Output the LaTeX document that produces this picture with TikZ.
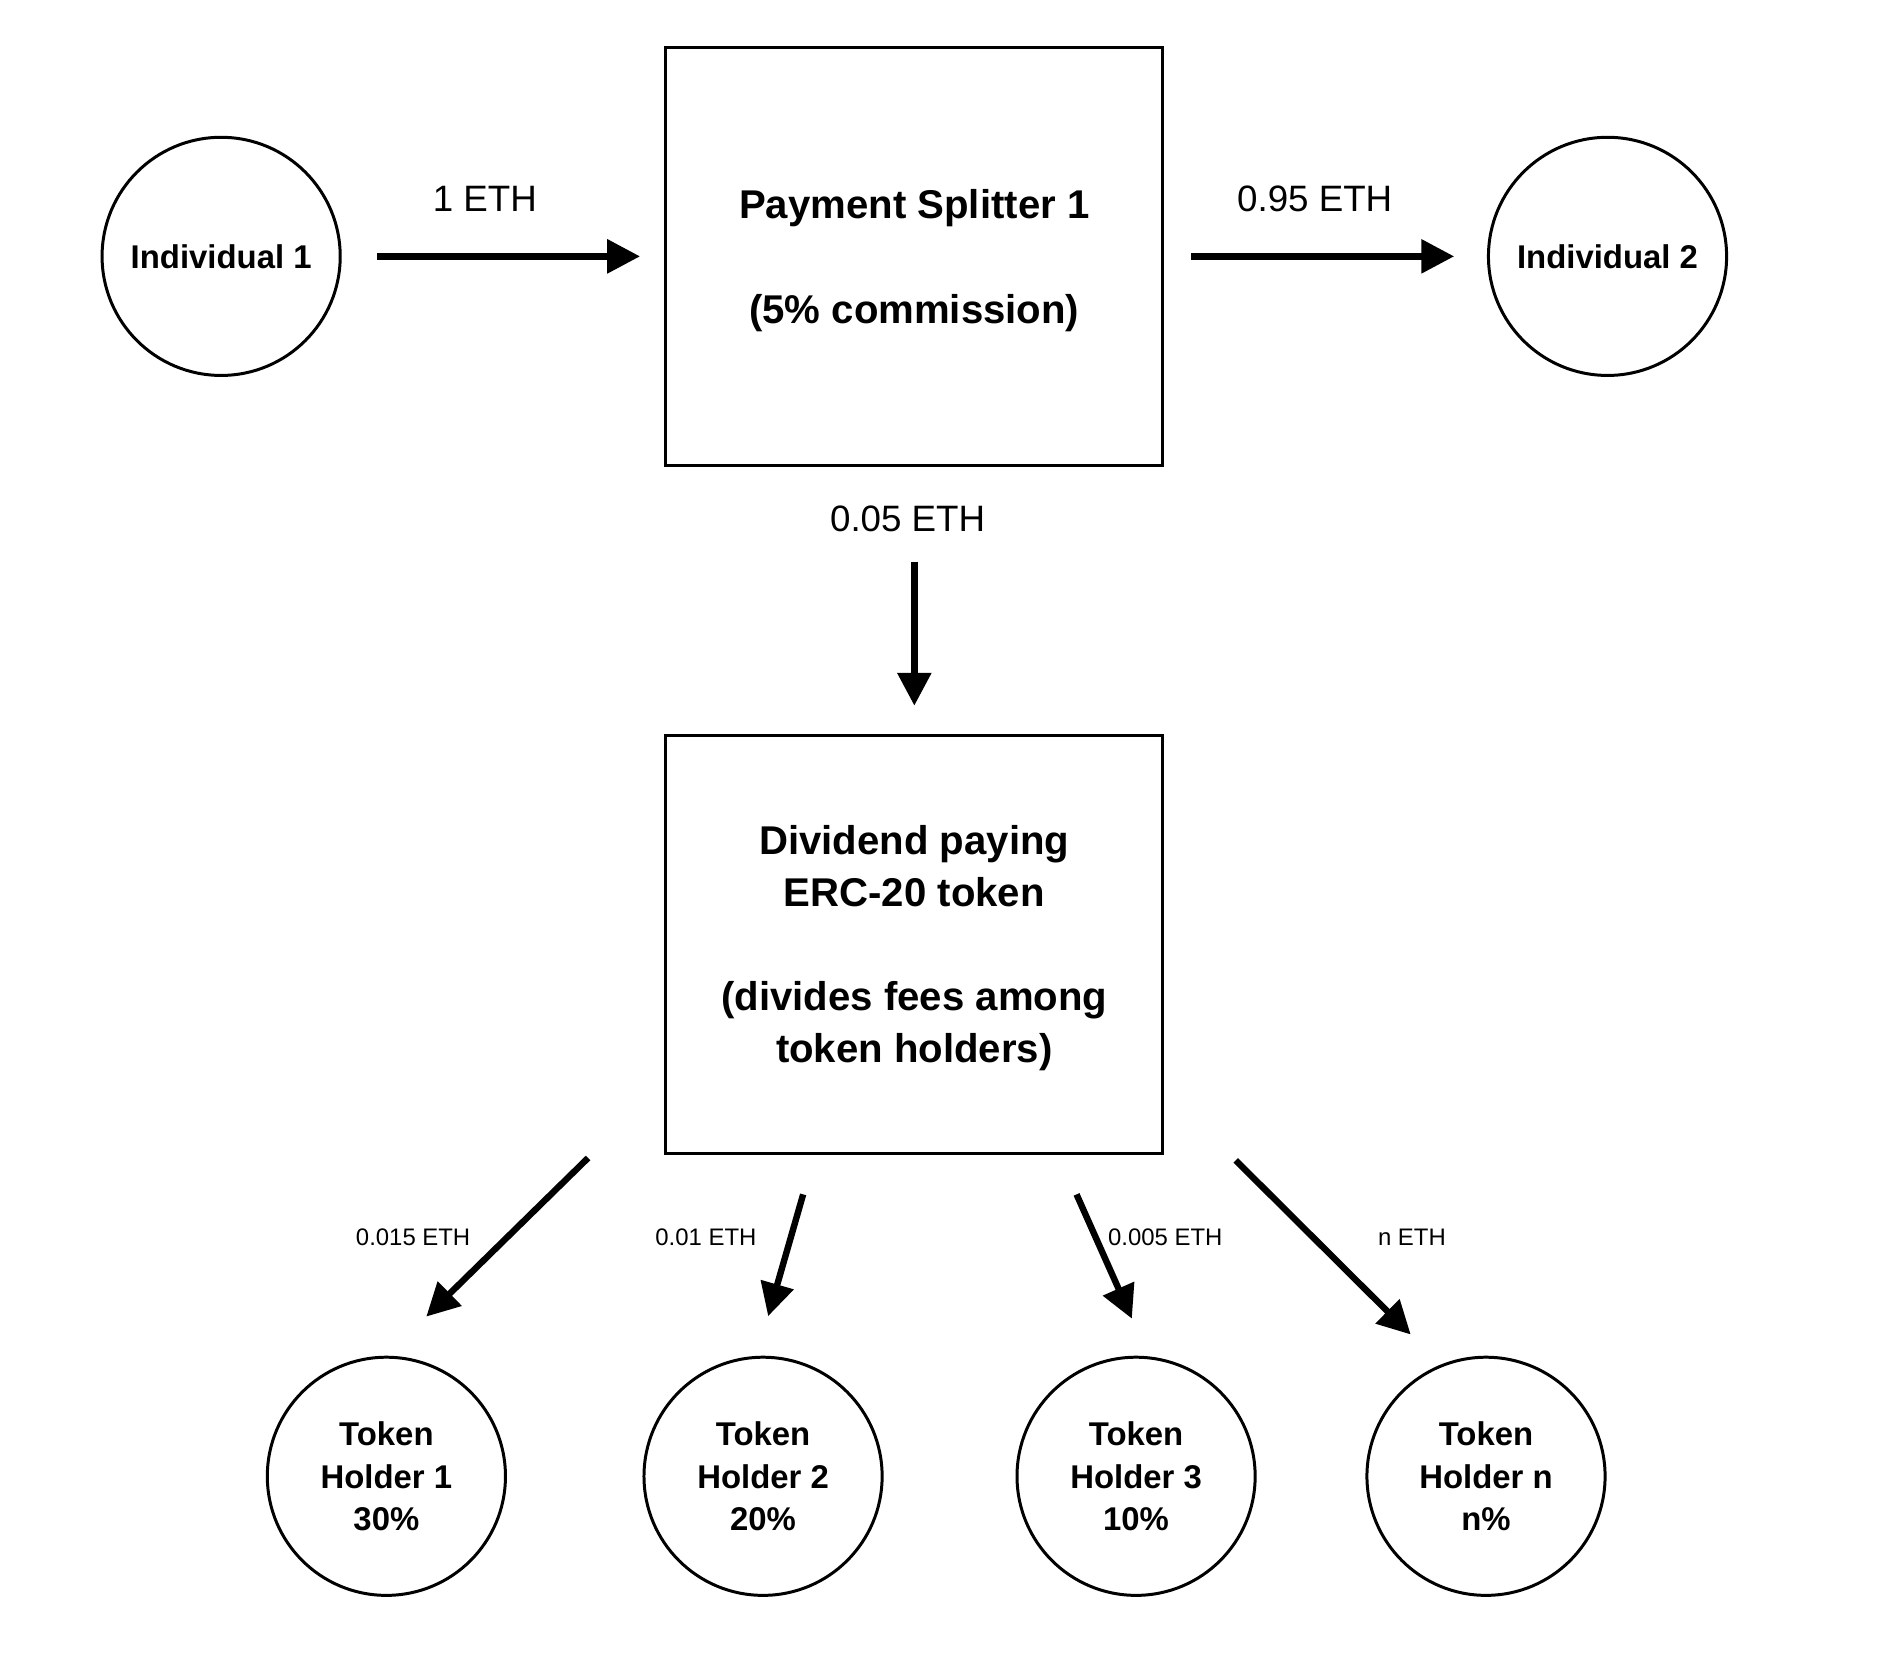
\documentclass[tikz,border=0pt]{standalone}
\usepackage{fontspec}
\setmainfont{Liberation Sans}
\usetikzlibrary{arrows.meta}

\begin{document}
\begin{tikzpicture}[
    person/.style={draw, circle, line width=0.7pt, minimum size=1.96cm, inner sep=0pt, align=center, font=\bfseries\fontsize{7.7}{10}\selectfont},
    contract/.style={draw, rectangle, line width=0.7pt, minimum width=4.09cm, minimum height=3.44cm, align=center, font=\bfseries\fontsize{9.4}{12.2}\selectfont},
    flow/.style={-{Triangle[length=7.7pt,width=7.7pt]}, line width=1.5pt},
    amount/.style={font=\fontsize{8.6}{10}\selectfont},
    share/.style={font=\fontsize{5.6}{7}\selectfont}]
          \useasboundingbox (0,0) rectangle (15.67,-13.629);

          \node[person] (Individual1) at (1.82,-2.11) {Individual 1};
          \node[contract, text depth=-1.8pt] (Splitter) at (7.525,-2.11) {Payment Splitter 1\\[12.2pt](5\% commission)};
          \node[person] (Individual2) at (13.23,-2.11) {Individual 2};

          \node[contract, text depth=-0.4pt] (Dividend) at (7.525,-7.77) {Dividend paying\\ERC-20 token\\[12.2pt](divides fees among\\token holders)};

          \node[person] (Holder1) at (3.18,-12.15) {Token\\Holder 1\\30\%};
          \node[person] (Holder2) at (6.28,-12.15) {Token\\Holder 2\\20\%};
          \node[person] (Holder3) at (9.35,-12.15) {Token\\Holder 3\\10\%};
          \node[person] (HolderN) at (12.23,-12.15) {Token\\Holder n\\n\%};

          \node[amount] (OneEth) at (3.99,-1.64) {1 ETH};
          \node[amount] (KeepEth) at (10.82,-1.64) {0.95 ETH};
          \node[amount] (FeeEth) at (7.47,-4.27) {0.05 ETH};

          \node[share] (Share1) at (3.40,-10.18) {0.015 ETH};
          \node[share] (Share2) at (5.81,-10.18) {0.01 ETH};
          \node[share] (Share3) at (9.59,-10.18) {0.005 ETH};
          \node[share] (ShareN) at (11.62,-10.18) {n ETH};

          \coordinate (Out1) at (4.84,-9.53);
          \coordinate (Out2) at (6.61,-9.83);
          \coordinate (Out3) at (8.86,-9.83);
          \coordinate (OutN) at (10.17,-9.55);

          \draw[flow, shorten <=0.29cm, shorten >=0.20cm] (Individual1) to (Splitter);
          \draw[flow, shorten <=0.22cm, shorten >=0.27cm] (Splitter) to (Individual2);
          \draw[flow, shorten <=0.78cm, shorten >=0.23cm] (Splitter) to (Dividend);

          \draw[flow, shorten >=0.46cm] (Out1) to (Holder1.north);
          \draw[flow, shorten >=0.34cm] (Out2) to (Holder2.93);
          \draw[flow, shorten >=0.34cm] (Out3) to (Holder3.84);
          \draw[flow, shorten >=0.35cm] (OutN) to (HolderN.112);
        \end{tikzpicture}
\end{document}
